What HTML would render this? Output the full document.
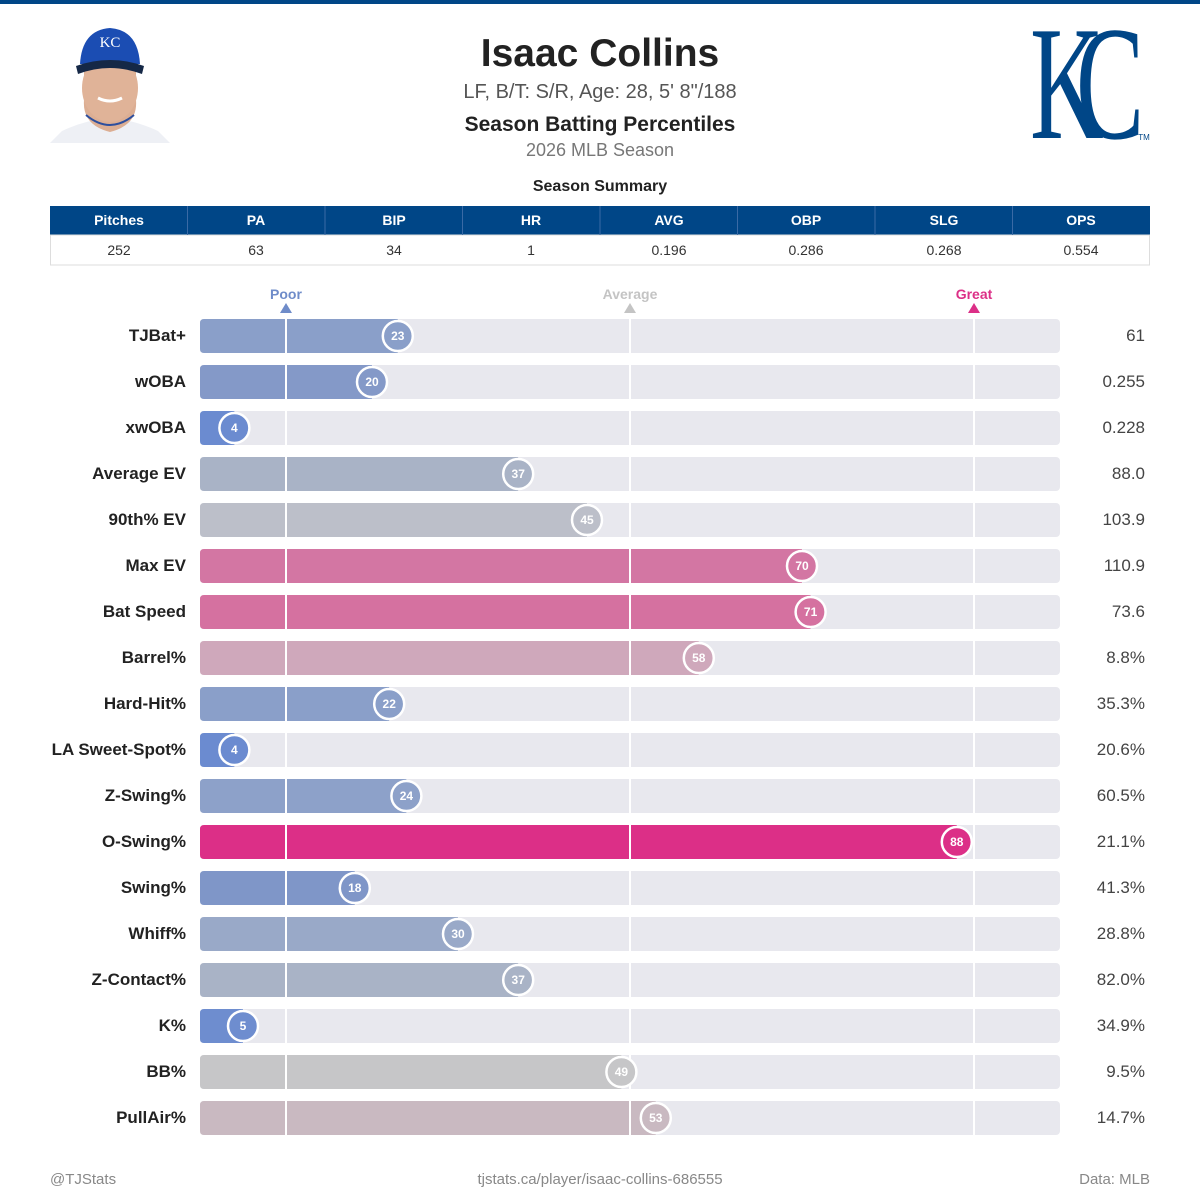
<!DOCTYPE html>
<html><head><meta charset="utf-8"><style>
html,body{margin:0;padding:0;background:#fff;}
svg{display:block;font-family:"Liberation Sans",sans-serif;}
</style></head><body>
<svg width="1200" height="1200" viewBox="0 0 1200 1200" xmlns="http://www.w3.org/2000/svg">
<rect x="0" y="0" width="1200" height="4" fill="#004687"/>
<g>
<path d="M50 143 L62 131 Q85 120 110 118 Q135 120 158 131 L170 143 Z" fill="#eef0f5"/>
<path d="M84 100 Q82 125 110 132 Q138 125 136 100 L136 70 L84 70 Z" fill="#dcae93"/>
<ellipse cx="110" cy="88" rx="28" ry="34" fill="#e0b398"/>
<path d="M86 115 Q110 135 134 115" fill="none" stroke="#2d4f9e" stroke-width="2"/>
<path d="M80 64 Q82 30 110 28 Q138 30 140 64 Z" fill="#1b4db3"/>
<path d="M76 66 Q110 54 144 66 L142 74 Q110 62 78 74 Z" fill="#152846"/>
<text x="110" y="47" font-size="15" font-family="Liberation Serif,serif" fill="#fff" text-anchor="middle">KC</text>
<path d="M98 98 Q110 104 122 98" stroke="#fff" stroke-width="3" fill="none"/>
</g>
<g transform="translate(1030,138) scale(0.93,1.48)">
<text x="0" y="0" font-family="Liberation Serif,serif" font-size="110" fill="#004687" letter-spacing="-30">KC</text>
</g>
<text x="1144" y="140" font-size="8" fill="#004687" text-anchor="middle">TM</text>
<text x="600" y="66" font-size="39" font-weight="bold" fill="#222" text-anchor="middle">Isaac Collins</text>
<text x="600" y="98" font-size="20" fill="#555" text-anchor="middle">LF, B/T: S/R, Age: 28, 5' 8"/188</text>
<text x="600" y="131" font-size="21" font-weight="bold" fill="#222" text-anchor="middle">Season Batting Percentiles</text>
<text x="600" y="156" font-size="18" fill="#777" text-anchor="middle">2026 MLB Season</text>
<text x="600" y="191" font-size="16" font-weight="bold" fill="#222" text-anchor="middle">Season Summary</text>
<rect x="50" y="206" width="1100" height="29" fill="#004687"/>
<rect x="50.5" y="235" width="1099" height="30" fill="#fff" stroke="#ddd"/>
<g stroke="#3a6aa5" stroke-width="1">
<line x1="187.5" y1="206" x2="187.5" y2="235"/><line x1="325" y1="206" x2="325" y2="235"/><line x1="462.5" y1="206" x2="462.5" y2="235"/><line x1="600" y1="206" x2="600" y2="235"/><line x1="737.5" y1="206" x2="737.5" y2="235"/><line x1="875" y1="206" x2="875" y2="235"/><line x1="1012.5" y1="206" x2="1012.5" y2="235"/>
</g>
<g font-size="14" font-weight="bold" fill="#fff" text-anchor="middle">
<text x="119" y="225">Pitches</text><text x="256" y="225">PA</text><text x="394" y="225">BIP</text><text x="531" y="225">HR</text><text x="669" y="225">AVG</text><text x="806" y="225">OBP</text><text x="944" y="225">SLG</text><text x="1081" y="225">OPS</text>
</g>
<g font-size="14" fill="#333" text-anchor="middle">
<text x="119" y="255">252</text><text x="256" y="255">63</text><text x="394" y="255">34</text><text x="531" y="255">1</text><text x="669" y="255">0.196</text><text x="806" y="255">0.286</text><text x="944" y="255">0.268</text><text x="1081" y="255">0.554</text>
</g>
<g font-size="14" font-weight="bold" text-anchor="middle">
<text x="286" y="299" fill="#6f8cc9">Poor</text><polygon points="280,313 292,313 286,303" fill="#6f8cc9"/>
<text x="630" y="299" fill="#c4c4c4">Average</text><polygon points="624,313 636,313 630,303" fill="#c4c4c4"/>
<text x="974" y="299" fill="#dc2f87">Great</text><polygon points="968,313 980,313 974,303" fill="#dc2f87"/>
</g>
<g id="rows"></g>
<text x="50" y="1184" font-size="15" fill="#888">@TJStats</text>
<text x="600" y="1184" font-size="15" fill="#888" text-anchor="middle">tjstats.ca/player/isaac-collins-686555</text>
<text x="1150" y="1184" font-size="15" fill="#888" text-anchor="end">Data: MLB</text>
</svg>
<script>
var d=[["TJBat+",23,"61","#8a9fc9"],["wOBA",20,"0.255","#8499c8"],["xwOBA",4,"0.228","#6b8bd0"],["Average EV",37,"88.0","#a9b3c6"],["90th% EV",45,"103.9","#bcbfc9"],["Max EV",70,"110.9","#d376a3"],["Bat Speed",71,"73.6","#d571a0"],["Barrel%",58,"8.8%","#cfa8bb"],["Hard-Hit%",22,"35.3%","#8a9fc9"],["LA Sweet-Spot%",4,"20.6%","#6b8bd0"],["Z-Swing%",24,"60.5%","#8da1c9"],["O-Swing%",88,"21.1%","#dc2f87"],["Swing%",18,"41.3%","#7f96c8"],["Whiff%",30,"28.8%","#99a9c8"],["Z-Contact%",37,"82.0%","#a9b3c6"],["K%",5,"34.9%","#6e8dcf"],["BB%",49,"9.5%","#c6c6c8"],["PullAir%",53,"14.7%","#c9b9c1"]];
var s="";
d.forEach(function(r,i){var y=319+46*i,c=y+17,x=200+8.6*r[1];
s+='<rect x="200" y="'+y+'" width="860" height="34" rx="4" fill="#e8e8ee"/>';
s+='<path d="M204 '+y+' L'+x+' '+y+' L'+x+' '+(y+34)+' L204 '+(y+34)+' Q200 '+(y+34)+' 200 '+(y+30)+' L200 '+(y+4)+' Q200 '+y+' 204 '+y+' Z" fill="'+r[3]+'"/>';
[286,630,974].forEach(function(g){s+='<line x1="'+g+'" y1="'+y+'" x2="'+g+'" y2="'+(y+34)+'" stroke="#fff" stroke-width="2"/>';});
s+='<circle cx="'+x+'" cy="'+c+'" r="15" fill="'+r[3]+'" stroke="#fff" stroke-width="2.5"/>';
s+='<text x="'+x+'" y="'+(c+4)+'" font-size="12" font-weight="bold" fill="#fff" text-anchor="middle">'+r[1]+'</text>';
s+='<text x="186" y="'+(c+5)+'" font-size="17" font-weight="bold" fill="#222" text-anchor="end">'+r[0]+'</text>';
s+='<text x="1145" y="'+(c+5)+'" font-size="17" fill="#444" text-anchor="end">'+r[2]+'</text>';});
document.getElementById("rows").innerHTML=s;
</script>
</body></html>
